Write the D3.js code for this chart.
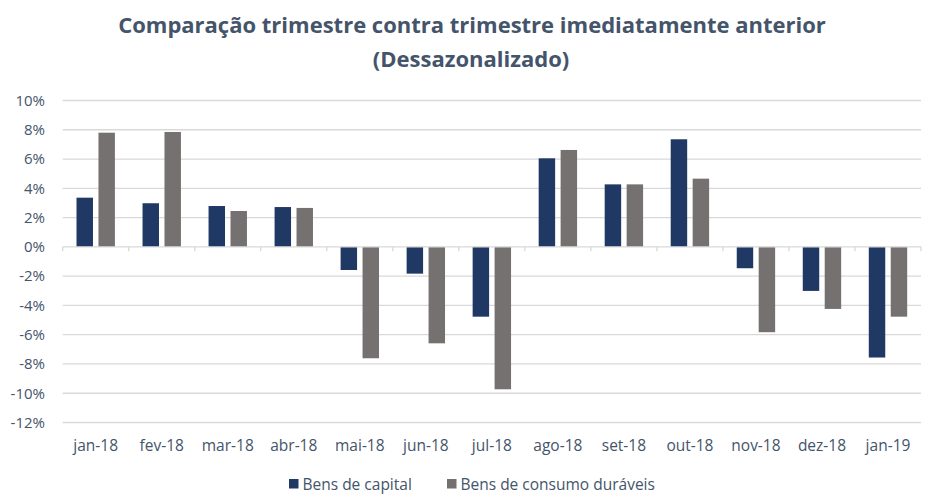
<!DOCTYPE html>
<html><head><meta charset="utf-8">
<script src="https://cdn.jsdelivr.net/npm/d3@7"></script>
<style>
body{margin:0;background:#fff;}
svg{display:block;font-family:"Open Sans",sans-serif;}
</style></head>
<body>
<svg id="chart" width="933" height="495"></svg>
<script>
const categories = ["jan-18","fev-18","mar-18","abr-18","mai-18","jun-18","jul-18","ago-18","set-18","out-18","nov-18","dez-18","jan-19"];
const bensCapital = [3.36, 2.98, 2.79, 2.72, -1.58, -1.83, -4.77, 6.05, 4.27, 7.35, -1.46, -3.01, -7.56];
const bensConsumoDuraveis = [7.80, 7.85, 2.45, 2.66, -7.61, -6.59, -9.73, 6.62, 4.27, 4.66, -5.83, -4.24, -4.77];
const seriesNames = ["Bens de capital", "Bens de consumo duráveis"];
const yTicks = [10, 8, 6, 4, 2, 0, -2, -4, -6, -8, -10, -12];
const titleLines = ["Comparação trimestre contra trimestre imediatamente anterior", "(Dessazonalizado)"];

const colors = ["#1F3864", "#767171"];
const textColor = "#44546A";
const svg = d3.select("#chart");

const x0 = d3.scaleBand().domain(categories).range([62.7, 921]).paddingInner(0).paddingOuter(0);
const x1 = d3.scaleBand().domain(seriesNames).range([x0.bandwidth()/2 - 19.2, x0.bandwidth()/2 + 19.2]).paddingInner(0.25).paddingOuter(0);
const y = d3.scaleLinear().domain([-12, 10]).range([422.5, 100.5]);

// gridlines
svg.append("g").selectAll("line").data(yTicks.filter(d => d !== 0)).join("line")
  .attr("x1", 62.7).attr("x2", 921)
  .attr("y1", d => y(d)).attr("y2", d => y(d))
  .attr("stroke", "#D9D9D9").attr("stroke-width", 1.3);

// y axis labels
const yAxis = d3.axisLeft(y).tickValues(yTicks).tickFormat(d => d + "%").tickSize(0).tickPadding(0);
const yg = svg.append("g").attr("transform", "translate(45,0)").call(yAxis);
yg.select(".domain").remove();
yg.selectAll("text").attr("fill", textColor).style("font-size", "15px").style("font-family", "'Open Sans',sans-serif");

// bars
const data = categories.map((c, i) => ({cat: c, vals: [bensCapital[i], bensConsumoDuraveis[i]]}));
const groups = svg.append("g").selectAll("g").data(data).join("g")
  .attr("transform", d => `translate(${x0(d.cat)},0)`);
groups.selectAll("rect").data(d => d.vals.map((v, j) => ({name: seriesNames[j], v, j}))).join("rect")
  .attr("x", d => x1(d.name))
  .attr("width", x1.bandwidth())
  .attr("y", d => y(Math.max(0, d.v)))
  .attr("height", d => Math.abs(y(d.v) - y(0)))
  .attr("fill", d => colors[d.j]);

// zero axis with category ticks
const zeroLine = svg.append("g");
zeroLine.append("line").attr("x1", 62.7).attr("x2", 921).attr("y1", y(0)).attr("y2", y(0))
  .attr("stroke", "#D9D9D9").attr("stroke-width", 1.3);
const bounds = categories.map(c => x0(c)).concat([x0.range()[1]]);
zeroLine.selectAll("line.tk").data(bounds).join("line").attr("class", "tk")
  .attr("x1", d => d).attr("x2", d => d).attr("y1", y(0)).attr("y2", y(0) + 4.5)
  .attr("stroke", "#D9D9D9").attr("stroke-width", 1.3);

// category labels
const xg = svg.append("g").attr("transform", "translate(0,422.5)")
  .call(d3.axisBottom(x0).tickSize(0).tickPadding(17));
xg.select(".domain").remove();
xg.selectAll("text").attr("fill", textColor).style("font-size", "15.5px").style("font-family", "'Open Sans',sans-serif");

// title
const title = svg.append("g");
const t1 = title.append("text").attr("x", 472).attr("y", 33).attr("text-anchor", "middle")
  .attr("fill", textColor).style("font-weight", "bold").style("font-size", "20px").text(titleLines[0]);
const w = t1.node().getComputedTextLength();
const fs = 20 * 708 / w;
t1.style("font-size", fs + "px");
title.append("text").attr("x", 471).attr("y", 67).attr("text-anchor", "middle")
  .attr("fill", textColor).style("font-weight", "bold").style("font-size", fs + "px").text(titleLines[1]);

// legend
const legendX = [289, 447];
const leg = svg.append("g").selectAll("g").data(seriesNames).join("g")
  .attr("transform", (d, i) => `translate(${legendX[i]},479)`);
leg.append("rect").attr("width", 9.5).attr("height", 9.5).attr("y", 0).attr("fill", (d, i) => colors[i]);
leg.append("text").attr("x", 13.5).attr("y", 10.5).attr("fill", textColor)
  .style("font-size", "15.5px").text(d => d);
</script>
</body></html>
